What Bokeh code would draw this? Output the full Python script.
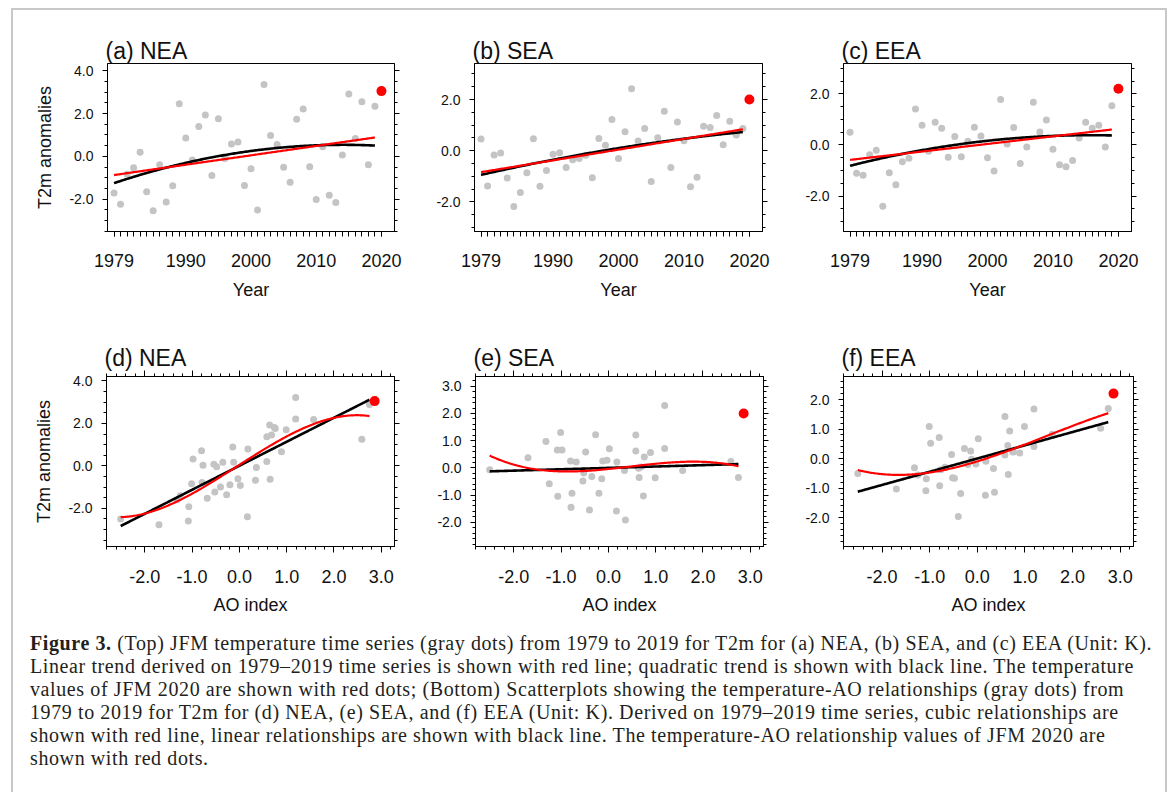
import numpy as np
from bokeh.plotting import figure
from bokeh.models import LinearAxis, FixedTicker, PrintfTickFormatter, CustomJSTickFormatter, Range1d, Div
from bokeh.layouts import row, column
from bokeh.embed import file_html
from bokeh.resources import INLINE

# ---------------- data ----------------
years = list(range(1979, 2020))
nea_t2m = [-1.71, -2.24, -0.83, -0.53, 0.19, -1.65, -2.54, -0.39, -2.13, -1.37,
           2.46, 0.86, -0.17, 1.40, 1.93, -0.89, 1.76, -0.10, 0.58, 0.67,
           -1.36, -0.58, -2.51, 3.36, 0.98, 0.55, -0.51, -1.21, 1.73, 2.21,
           -0.48, -2.02, 0.45, -1.82, -2.16, 0.06, 2.91, 0.83, 2.55, -0.39, 2.34]
sea_t2m = [0.46, -1.38, -0.17, -0.09, -1.07, -2.18, -1.63, -0.86, 0.47, -1.39,
           -0.77, -0.14, -0.08, -0.66, -0.35, -0.31, -0.18, -1.06, 0.48, 0.21,
           1.22, -0.31, 0.74, 2.42, 0.38, 0.87, -1.20, 0.51, 1.54, -0.66,
           1.12, 0.39, -1.41, -1.04, 0.96, 0.91, 1.38, 0.23, 1.15, 0.61, 0.87]
eea_t2m = [0.50, -1.11, -1.19, -0.38, -0.21, -2.40, -1.09, -1.56, -0.66, -0.52,
           1.41, 0.77, -0.25, 0.89, 0.65, -0.48, 0.33, -0.46, 0.14, 0.69,
           0.35, -0.50, -1.02, 1.78, 0.04, 0.68, -0.73, -0.08, 1.67, 0.51,
           0.98, -0.17, -0.78, -0.85, -0.61, 0.27, 0.89, 0.65, 0.77, -0.08, 1.54]
ao_index = [-1.01, -1.25, -0.48, 0.58, -0.14, -0.40, -1.07, -0.35, -1.32, -0.20,
            2.75, 2.59, -0.12, 0.99, 1.57, 0.34, 0.64, -0.77, 0.89, -0.80,
            -0.27, 0.65, -1.08, 1.19, 0.18, -0.98, -0.79, -0.68, 0.58, 0.74,
            0.02, -2.51, 0.36, 0.17, -1.70, -0.03, 1.19, -0.54, 0.76, -0.52, 0.68]
year_2020 = 2020
ao_2020 = 2.86
t2m_2020 = {"NEA": 3.05, "SEA": 2.00, "EEA": 2.20}

regions = ["NEA", "SEA", "EEA"]
series = {"NEA": nea_t2m, "SEA": sea_t2m, "EEA": eea_t2m}
top_titles = ["(a) NEA", "(b) SEA", "(c) EEA"]
bottom_titles = ["(d) NEA", "(e) SEA", "(f) EEA"]

year_labels = [1979, 1990, 2000, 2010, 2020]
ao_labels = [-2.0, -1.0, 0.0, 1.0, 2.0, 3.0]
top_yranges = [(-3.51, 4.34), (-3.16, 3.41), (-3.39, 3.19)]
top_ymajor = [[-2.0, 0.0, 2.0, 4.0], [-2.0, 0.0, 2.0], [-2.0, 0.0, 2.0]]
bot_yranges = [(-3.8, 4.21), (-2.89, 3.36), (-2.98, 2.78)]
bot_ymajor = [[-2.0, 0.0, 2.0, 4.0], [-2.0, -1.0, 0.0, 1.0, 2.0, 3.0], [-2.0, -1.0, 0.0, 1.0, 2.0]]
bot_ystep = [0.5, 0.2, 0.2]

# ---------------- styling ----------------
FONT = "Liberation Sans"
GRAY = "#c4c4c4"
RED = "#ff0000"
BLANK = CustomJSTickFormatter(code="return ''")


def minor_list(lo, hi, step):
    n0 = int(np.ceil(lo / step - 1e-9))
    n1 = int(np.floor(hi / step + 1e-9))
    return [round(k * step, 6) for k in range(n0, n1 + 1)]


def style_axis(ax, ticker, fmt, label_size, major_out=5, minor_out=3, standoff=10):
    ax.ticker = ticker
    ax.formatter = fmt
    ax.axis_line_color = "black"
    ax.axis_line_width = 1
    ax.major_tick_line_color = "black"
    ax.minor_tick_line_color = "black"
    ax.major_tick_in = 0
    ax.minor_tick_in = 0
    ax.major_tick_out = int(major_out)
    ax.minor_tick_out = int(minor_out)
    ax.major_label_text_font = FONT
    ax.major_label_text_font_size = label_size
    ax.major_label_text_color = "#111111"
    ax.major_label_standoff = int(standoff)
    ax.axis_label_text_font = FONT
    ax.axis_label_text_font_size = "18px"
    ax.axis_label_text_font_style = "normal"
    ax.axis_label_text_color = "#111111"


def base_fig(width, height, lb, rb, tb, bb, xr, yr, title):
    p = figure(width=width, height=height, x_range=Range1d(*xr), y_range=Range1d(*yr),
               output_backend="svg", toolbar_location=None,
               min_border_left=lb, min_border_right=rb, min_border_top=tb, min_border_bottom=bb,
               title=title)
    p.grid.visible = False
    p.outline_line_color = "black"
    p.outline_line_width = 1
    p.background_fill_color = "white"
    p.border_fill_color = "white"
    p.title.text_font = FONT
    p.title.text_font_size = "23px"
    p.title.text_font_style = "normal"
    p.title.text_color = "#111111"
    p.title.align = "left"
    p.title.offset = -2
    p.title.standoff = 0
    return p


# column geometry: (figure width, left border, frame width)
top_cols = [(407, 94, 287), (370, 54, 288), (375, 53, 288)]
bot_cols = [(407, 93, 288), (370, 55, 288), (375, 53, 290)]

top_figs = []
for i, reg in enumerate(regions):
    w, lb, fw = top_cols[i]
    vals = np.array(series[reg])
    yrs = np.array(years, dtype=float)
    p = base_fig(w, 308, lb, w - lb - fw, 53, 87, (1978.0, 2022.0), top_yranges[i], top_titles[i])
    yt = FixedTicker(ticks=top_ymajor[i], minor_ticks=minor_list(top_yranges[i][0], top_yranges[i][1], 0.5))
    xt = FixedTicker(ticks=year_labels, minor_ticks=list(range(1979, 2021)))
    style_axis(p.yaxis[0], yt, PrintfTickFormatter(format="%.1f"), "14px", 5, 3, 9)
    style_axis(p.xaxis[0], xt, PrintfTickFormatter(format="%d"), "18px", 5, 5, 17)
    p.xaxis[0].axis_label = "Year"
    p.xaxis[0].axis_label_standoff = 10
    if i == 0:
        p.yaxis[0].axis_label = "T2m anomalies"
        p.yaxis[0].axis_label_standoff = 11
    ra = LinearAxis()
    style_axis(ra, FixedTicker(ticks=top_ymajor[i], minor_ticks=minor_list(top_yranges[i][0], top_yranges[i][1], 0.5)),
               BLANK, "1px", 5, 3, 0)
    p.add_layout(ra, "right")

    # trends on 1979-2019
    xc = yrs - 1999.0
    xs = np.linspace(1979, 2019, 200)
    lin = np.polyval(np.polyfit(xc, vals, 1), xs - 1999.0)
    quad = np.polyval(np.polyfit(xc, vals, 2), xs - 1999.0)
    p.scatter(years, series[reg], size=7, color=GRAY, line_color=None)
    p.line(xs, quad, line_color="black", line_width=2.6)
    p.line(xs, lin, line_color=RED, line_width=2.2)
    p.scatter([year_2020], [t2m_2020[reg]], size=10, color=RED, line_color=None)
    top_figs.append(p)

bot_figs = []
ao = np.array(ao_index)
for i, reg in enumerate(regions):
    w, lb, fw = bot_cols[i]
    vals = np.array(series[reg])
    yrs = np.array(years, dtype=float)
    detr = vals - np.polyval(np.polyfit(yrs - 1999.0, vals, 1), yrs - 1999.0)
    p = base_fig(w, 302, lb, w - lb - fw, 58, 74, (-2.81, 3.28), bot_yranges[i], bottom_titles[i])
    yr_ = bot_yranges[i]
    ymin = minor_list(yr_[0], yr_[1], bot_ystep[i])
    xmin = minor_list(-2.81, 3.28, 0.2)
    style_axis(p.yaxis[0], FixedTicker(ticks=bot_ymajor[i], minor_ticks=ymin),
               PrintfTickFormatter(format="%.1f"), "14px", 5, 3, 9)
    style_axis(p.xaxis[0], FixedTicker(ticks=ao_labels, minor_ticks=xmin),
               PrintfTickFormatter(format="%.1f"), "18px", 6, 3, 17)
    p.xaxis[0].axis_label = "AO index"
    p.xaxis[0].axis_label_standoff = 9
    if i == 0:
        p.yaxis[0].axis_label = "T2m anomalies"
        p.yaxis[0].axis_label_standoff = 11
    ra = LinearAxis()
    style_axis(ra, FixedTicker(ticks=bot_ymajor[i], minor_ticks=ymin), BLANK, "1px", 5, 3, 0)
    p.add_layout(ra, "right")
    ta = LinearAxis()
    style_axis(ta, FixedTicker(ticks=ao_labels, minor_ticks=xmin), BLANK, "1px", 6, 3, 0)
    p.add_layout(ta, "above")

    xs = np.linspace(ao.min(), ao.max(), 200)
    cub = np.polyval(np.polyfit(ao, detr, 3), xs)
    lin = np.polyval(np.polyfit(ao, detr, 1), xs)
    p.scatter(ao_index, detr, size=7, color=GRAY, line_color=None)
    p.line(xs, lin, line_color="black", line_width=2.6)
    p.line(xs, cub, line_color=RED, line_width=2.2)
    p.scatter([ao_2020], [t2m_2020[reg]], size=10, color=RED, line_color=None)
    bot_figs.append(p)

caption_lines = [
    "<b>Figure 3.</b> (Top) JFM temperature time series (gray dots) from 1979 to 2019 for T2m for (a) NEA, (b) SEA, and (c) EEA (Unit: K).",
    "Linear trend derived on 1979–2019 time series is shown with red line; quadratic trend is shown with black line. The temperature",
    "values of JFM 2020 are shown with red dots; (Bottom) Scatterplots showing the temperature-AO relationships (gray dots) from",
    "1979 to 2019 for T2m for (d) NEA, (e) SEA, and (f) EEA (Unit: K). Derived on 1979–2019 time series, cubic relationships are",
    "shown with red line, linear relationships are shown with black line. The temperature-AO relationship values of JFM 2020 are",
    "shown with red dots.",
]
caption_html = ('<div style="font-family:\'Liberation Serif\',serif;font-size:20px;line-height:23px;'
                'letter-spacing:0.6px;padding:12px 0 0 17px;white-space:nowrap;color:#231f20;">'
                + "<br>".join(caption_lines) + "</div>")
caption = Div(text=caption_html, width=1152, height=172, margin=0)

BORDER = "#c8c8c8"
left_gap = Div(text="", width=11, height=792, margin=0)
left_line = Div(text="", width=2, height=784, margin=0, styles={"background-color": BORDER})
right_line = Div(text="", width=2, height=784, margin=0, styles={"background-color": BORDER})
top_line = Div(text="", width=1152, height=2, margin=0, styles={"background-color": BORDER})

inner = column(top_line, row(*top_figs), row(*bot_figs), caption)
body = row(left_line, inner, right_line)
top_gap = Div(text="", width=1156, height=8, margin=0)
layout = row(left_gap, column(top_gap, body))

open("out.html", "w").write(file_html(layout, INLINE))
